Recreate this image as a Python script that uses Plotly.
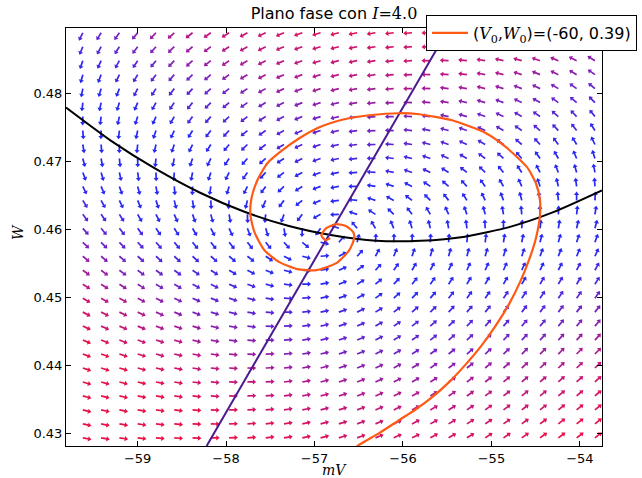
import numpy as np
import plotly.graph_objects as go

# ---------------- data ----------------
V_LIM = [-59.81, -53.75]
W_LIM = [0.4281, 0.4896]

x_ticks = [-59, -58, -57, -56, -55, -54]
y_ticks = [0.43, 0.44, 0.45, 0.46, 0.47, 0.48]

# V-nullcline (black curve)
vnull_V = [-59.81, -59.30, -58.80, -58.30, -57.80, -57.30, -56.80, -56.30,
           -55.80, -55.30, -54.80, -54.30, -53.75]
vnull_W = [0.4779, 0.4730, 0.4689, 0.4654, 0.4626, 0.4605, 0.4591, 0.4583,
           0.4583, 0.4589, 0.4603, 0.4625, 0.4657]

# W-nullcline (purple line)
wnull_V = [-58.22, -57.00, -55.48]
wnull_W = [0.4281, 0.4555, 0.4896]

# Trajectory from (V0, W0) = (-60, 0.39)
traj_V = [-56.833, -56.517, -56.269, -56.043, -55.851, -55.670, -55.479, -55.298,
          -55.117, -54.948, -54.801, -54.677, -54.576, -54.497, -54.451, -54.451,
          -54.497, -54.598, -54.835, -55.061, -55.445, -55.817, -56.043, -56.381,
          -56.664, -56.946, -57.172, -57.363, -57.533, -57.646, -57.713, -57.725,
          -57.679, -57.567, -57.397, -57.194, -56.980, -56.754, -56.607, -56.551,
          -56.562, -56.641, -56.754, -56.867, -56.923, -56.878, -56.822]
traj_W = [0.42471, 0.42809, 0.43000, 0.43191, 0.43353, 0.43529, 0.43750, 0.44000,
          0.44279, 0.44588, 0.44897, 0.45221, 0.45544, 0.45868, 0.46206, 0.46426,
          0.46676, 0.46912, 0.47206, 0.47412, 0.47603, 0.47691, 0.47706, 0.47676,
          0.47618, 0.47500, 0.47338, 0.47162, 0.46971, 0.46721, 0.46456, 0.46206,
          0.45956, 0.45691, 0.45515, 0.45412, 0.45397, 0.45500, 0.45691, 0.45868,
          0.45956, 0.46044, 0.46074, 0.46015, 0.45912, 0.45838, 0.45868]

# quiver sampling grid (columns x rows)
grid_V = np.linspace(-59.62, -53.83, 29)
grid_W = np.linspace(0.4293, 0.4889, 30)

# colour ramp of the arrows (low speed -> high speed)
ramp_pos = [0.0, 0.35, 0.65, 1.0]
ramp_rgb = [(40, 40, 245), (112, 34, 196), (190, 22, 130), (232, 16, 72)]

# ---------------- geometry ----------------
FW, FH = 642, 478
ML, MR, MT, MB = 66, 40, 28, 32
PW, PH = FW - ML - MR, FH - MT - MB
px_V = PW / (V_LIM[1] - V_LIM[0])
px_W = PH / (W_LIM[1] - W_LIM[0])

# ---------------- direction field from the nullclines ----------------
wline = np.poly1d(np.polyfit(wnull_V, wnull_W, 1))
VV, WW = np.meshgrid(grid_V, grid_W)
VV = VV.ravel(); WW = WW.ravel()
g = np.interp(VV, np.array(vnull_V), np.array(vnull_W))
h = wline(VV)
ux = -3.5 * (WW - g)
uy = (h - WW)
nrm = np.hypot(ux, uy)
nrm[nrm == 0] = 1
L = 8.0
dxp = ux / nrm * L
dyp = uy / nrm * L
cval = np.clip((np.abs(WW - g) - 0.008) / 0.025, 0, 1)

nb = 20
bins = np.round(cval * nb).astype(int)
rp = np.array(ramp_rgb, dtype=float)


def ramp(t):
    r = np.interp(t, ramp_pos, rp[:, 0])
    gg = np.interp(t, ramp_pos, rp[:, 1])
    bl = np.interp(t, ramp_pos, rp[:, 2])
    return 'rgb(%d,%d,%d)' % (round(r), round(gg), round(bl))


fig = go.Figure()

for k in sorted(set(bins.tolist())):
    col = ramp(k / nb)
    idx = np.where(bins == k)[0]
    xs, ys = [], []
    for i in idx:
        xs += [VV[i], VV[i] + 0.75 * dxp[i] / px_V, None]
        ys += [WW[i], WW[i] + 0.75 * dyp[i] / px_W, None]
    fig.add_trace(go.Scatter(x=xs, y=ys, mode='lines',
                             line=dict(color=col, width=1.7), showlegend=False,
                             hoverinfo='skip'))
    fig.add_trace(go.Scatter(
        x=VV[idx] + 0.82 * dxp[idx] / px_V, y=WW[idx] + 0.82 * dyp[idx] / px_W,
        mode='markers',
        marker=dict(symbol='triangle-up', size=4.5, color=col,
                    angle=np.degrees(np.arctan2(dxp[idx], dyp[idx])),
                    line=dict(width=0)),
        showlegend=False, hoverinfo='skip'))

fig.add_trace(go.Scatter(x=vnull_V, y=vnull_W, mode='lines', line_shape='spline',
                         line=dict(color='black', width=2, smoothing=0.6),
                         showlegend=False))
fig.add_trace(go.Scatter(x=wnull_V, y=wnull_W, mode='lines',
                         line=dict(color='#4b1a90', width=2), showlegend=False))
fig.add_trace(go.Scatter(
    x=traj_V, y=traj_W, mode='lines', line_shape='spline',
    line=dict(color='#ff5a14', width=2.2, smoothing=0.6),
    name='(<span style="font-family:DejaVu Serif"><i>V</i><sub>0</sub>,'
         '<i>W</i><sub>0</sub></span>)=(-60, 0.39)'))

axis_common = dict(showline=True, linecolor='black', linewidth=1, mirror='ticks',
                   ticks='inside', ticklen=5, tickcolor='black', showgrid=False,
                   zeroline=False, tickfont=dict(family='DejaVu Sans', size=13,
                                                 color='black'))
fig.update_xaxes(range=V_LIM, tickvals=x_ticks, automargin=False, **axis_common)
fig.update_yaxes(range=W_LIM, tickvals=y_ticks, tickformat='.2f',
                 automargin=False, **axis_common)

fig.update_layout(
    width=FW, height=FH,
    margin=dict(l=ML, r=MR, t=MT, b=MB, autoexpand=False),
    plot_bgcolor='white', paper_bgcolor='white',
    font=dict(family='DejaVu Sans', color='black'),
    title=dict(text='Plano fase con <span style="font-family:DejaVu Serif">'
                    '<i>I</i>=4.0</span>',
               x=(ML + PW / 2) / FW, xanchor='center', y=1 - 13 / FH,
               yanchor='middle', font=dict(size=16, color='black')),
    legend=dict(x=(426 - ML) / PW, y=1 + (MT - 15) / PH, xanchor='left',
                yanchor='top', bgcolor='white', bordercolor='black',
                borderwidth=1, font=dict(size=16, family='DejaVu Sans'),
                itemwidth=36),
    annotations=[
        dict(text='<i>mV</i>', x=0.5, y=(0 - 24) / PH, xref='paper',
             yref='paper', showarrow=False, xanchor='center', yanchor='middle',
             font=dict(family='DejaVu Serif', size=14)),
        dict(text='<i>W</i>', x=(18 - ML) / PW, y=(446 - 232) / PH,
             xref='paper', yref='paper', showarrow=False, textangle=-90,
             xanchor='center', yanchor='middle',
             font=dict(family='DejaVu Serif', size=14)),
    ],
)

fig.write_html('out.html')
